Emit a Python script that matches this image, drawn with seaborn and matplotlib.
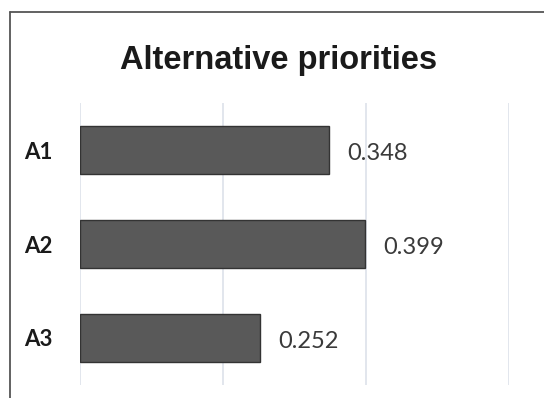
import matplotlib
matplotlib.use("Agg")
import matplotlib.pyplot as plt
import seaborn as sns
import pandas as pd
from matplotlib.lines import Line2D

categories = ["A1", "A2", "A3"]
values = [0.348, 0.399, 0.252]
title = "Alternative priorities"

df = pd.DataFrame({"alt": categories, "val": values})

sns.set_style("white")
W, H = 544, 398
fig = plt.figure(figsize=(W / 100, H / 100), dpi=100)
ax = fig.add_axes([80 / W, 1 - 385 / H, (509 - 80) / W, (385 - 103) / H])

sns.barplot(data=df, x="val", y="alt", orient="h", ax=ax, color="#595959",
            width=0.52, edgecolor="#333333", linewidth=1.0, saturation=1)

ax.set_xlim(0, 0.6)
ax.set_ylim(2.5, -0.5)
ax.set_xticks([0, 0.2, 0.4, 0.6])
ax.xaxis.grid(True, color="#dde2ea", linewidth=1.2)
ax.set_axisbelow(True)
ax.tick_params(axis="x", length=0, labelbottom=False)
ax.tick_params(axis="y", length=0, pad=20)
for s in ax.spines.values():
    s.set_visible(False)
ax.set_xlabel("")
ax.set_ylabel("")
for lab in ax.get_yticklabels():
    lab.set_fontfamily("Lato")
    lab.set_fontweight("bold")
    lab.set_fontsize(16)
    lab.set_color("#1a1a1a")
    lab.set_va("center_baseline")

for cont in ax.containers:
    texts = ax.bar_label(cont, fmt="%.3f", padding=13, fontsize=17, family="Lato",
                         color="#3a3a3a")
    for t in texts:
        t.xyann = (t.xyann[0], -2.5)

fig.text(279 / W, 1 - 61 / H, title, ha="center", va="center",
         fontsize=23.5, fontweight="bold", family="Liberation Sans", color="#1a1a1a")

# figure border (left and top visible)
fig.add_artist(Line2D([9.5 / W, 9.5 / W], [0, 1 - 12 / H], color="#555555", lw=1.3,
                      transform=fig.transFigure))
fig.add_artist(Line2D([9.5 / W, 1], [1 - 12 / H, 1 - 12 / H], color="#555555", lw=1.3,
                      transform=fig.transFigure))

fig.savefig("out.png", dpi=100)
